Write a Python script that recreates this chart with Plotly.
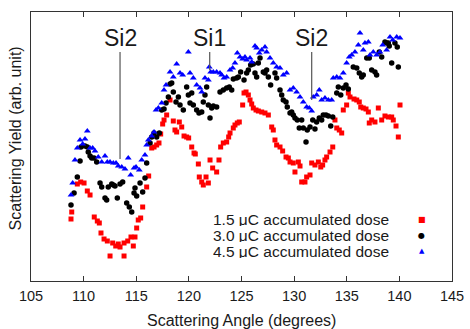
import plotly.graph_objects as go

# ---- data (scattering angle in degrees, scattering yield in arbitrary units) ----
dose_labels = ["1.5 μC accumulated dose", "3.0 μC accumulated dose", "4.5 μC accumulated dose"]

red_points = [(108.80,62),(108.87,69),(109.40,97),(109.72,99),(110.04,98),(110.35,90),(110.61,86),(111.01,64),(111.30,60),(111.49,58),(111.65,48),(111.94,42),(112.25,40),(112.51,25),(112.76,38),(113.05,35),(113.29,37),(113.46,34),(113.84,25),(113.84,38),(114.19,40),(114.50,44),(114.72,35),(114.88,44),(115.04,53),(115.19,61),(115.42,63),(115.61,74),(115.99,94),(116.18,105),(116.47,133),(116.69,134),(116.94,136),(117.16,138),(117.32,147),(117.51,157),(117.64,161),(117.89,166),(118.21,181),(118.52,160),(118.68,151),(118.84,149),(119.09,159),(119.32,154),(119.54,145),(119.79,144),(119.98,143),(120.27,134),(120.49,128),(120.61,127),(120.90,117),(120.99,104),(121.22,99),(121.37,96),(121.63,104),(121.85,98),(122.01,121),(122.26,113),(122.64,109),(122.86,121),(123.02,134),(123.27,138),(123.59,139),(123.78,144),(123.91,148),(124.22,153),(124.38,156),(124.60,158),(124.79,159),(125.11,176),(125.24,188),(125.43,189),(125.65,186),(125.81,181),(125.97,177),(126.12,173),(126.38,171),(126.60,170),(126.92,169),(127.23,168),(127.55,166),(127.87,154),(128.02,151),(128.18,141),(128.34,136),(128.66,134),(128.91,130),(129.23,124),(129.45,123),(129.61,119),(129.92,118),(130.08,109),(130.40,119),(130.56,115),(130.72,99),(131.03,99),(131.19,104),(131.51,106),(131.67,118),(131.98,116),(132.30,119),(132.53,114),(132.71,116),(132.93,121),(133.09,124),(133.41,129),(133.67,134),(133.88,161),(134.05,153),(134.29,151),(134.52,148),(134.67,171),(134.99,176),(135.15,188),(135.31,184),(135.69,182),(135.95,181),(136.19,179),(136.33,174),(136.57,173),(136.83,172),(137.05,169),(137.14,158),(137.37,161),(137.68,159),(138.00,173),(138.32,161),(138.63,165),(138.95,164),(139.27,164),(139.42,161),(139.68,155),(139.90,144),(140.06,176)]

black_points = [(108.80,76),(109.09,88),(109.40,104),(109.66,120),(109.75,134),(110.13,135),(110.35,134),(110.44,129),(110.61,125),(110.77,123),(110.99,123),(111.24,119),(111.56,98),(111.72,94),(112.03,83),(112.19,81),(112.34,94),(112.67,97),(112.82,96),(112.98,95),(113.20,83),(113.46,97),(113.71,99),(114.09,78),(114.34,74),(114.57,69),(114.79,88),(114.88,93),(115.04,85),(115.36,98),(115.61,89),(115.83,103),(115.99,118),(116.31,138),(116.47,144),(116.69,148),(116.94,144),(117.19,148),(117.42,171),(117.64,172),(117.83,178),(118.05,184),(118.21,197),(118.37,198),(118.52,189),(118.78,179),(119.00,184),(119.16,176),(119.47,171),(119.79,194),(119.95,186),(120.11,178),(120.27,188),(120.42,176),(120.74,171),(120.96,168),(121.22,169),(121.37,179),(121.53,186),(121.69,194),(121.85,176),(122.01,163),(122.17,173),(122.32,175),(122.64,174),(122.96,189),(123.27,191),(123.59,193),(123.84,194),(124.07,191),(124.22,202),(124.54,203),(124.70,204),(124.92,209),(125.24,201),(125.49,208),(125.65,211),(125.87,216),(126.12,217),(126.28,208),(126.44,204),(126.60,218),(126.76,223),(127.07,209),(127.23,208),(127.39,211),(127.55,204),(127.77,196),(128.18,208),(128.34,203),(128.66,191),(128.82,186),(128.97,181),(129.23,179),(129.35,174),(129.61,168),(129.77,169),(129.92,166),(130.08,163),(130.30,161),(130.49,153),(130.72,161),(130.87,153),(131.13,139),(131.25,151),(131.51,154),(131.77,161),(131.98,152),(132.14,159),(132.39,163),(132.62,161),(132.77,166),(133.03,166),(133.25,165),(133.48,155),(133.67,164),(134.05,188),(134.20,194),(134.43,186),(134.67,193),(134.93,196),(135.15,192),(135.62,214),(135.95,213),(136.19,208),(136.42,204),(136.57,206),(136.90,223),(137.14,223),(137.37,211),(137.68,209),(137.84,206),(138.09,229),(138.32,224),(138.63,239),(138.79,238),(138.95,238),(139.04,235),(139.27,218),(139.58,238),(139.80,234),(139.90,214)]

blue_points = [(108.80,86),(108.96,98),(109.18,121),(109.40,133),(109.66,141),(109.91,137),(110.13,142),(110.35,150),(110.61,133),(110.86,133),(111.08,130),(111.39,124),(111.72,119),(112.03,125),(112.25,119),(112.51,119),(112.82,118),(113.08,118),(113.29,115),(113.62,114),(113.93,112),(114.24,123),(114.47,106),(114.79,113),(114.98,114),(115.29,111),(115.52,121),(115.83,126),(115.99,136),(116.15,141),(116.47,145),(116.69,149),(116.88,171),(117.10,173),(117.42,178),(117.64,191),(117.83,196),(118.21,209),(118.52,204),(118.84,217),(119.16,208),(119.41,206),(119.95,229),(120.11,208),(120.42,203),(120.74,196),(121.06,193),(121.22,189),(121.53,203),(121.85,201),(121.94,214),(122.07,209),(122.32,209),(122.64,209),(122.96,208),(123.12,206),(123.34,203),(123.59,204),(123.91,211),(124.16,213),(124.38,218),(124.60,228),(124.86,224),(125.11,222),(125.33,224),(125.49,221),(125.81,223),(125.97,219),(126.28,235),(126.44,233),(126.69,228),(126.92,231),(127.23,234),(127.39,229),(127.71,223),(128.02,218),(128.34,214),(128.66,213),(128.97,206),(129.29,208),(129.61,191),(129.92,193),(130.24,189),(130.56,184),(130.87,179),(131.19,174),(131.44,173),(131.67,170),(131.82,184),(132.14,186),(132.39,191),(132.62,181),(132.93,183),(133.25,181),(133.57,181),(133.72,203),(134.05,204),(134.36,203),(134.67,208),(134.99,218),(135.24,224),(135.47,226),(135.78,229),(136.10,236),(136.26,248),(136.57,231),(136.73,238),(137.05,239),(137.21,226),(137.52,229),(137.84,226),(138.16,229),(138.41,236),(138.79,231),(139.11,244),(139.37,241),(139.75,244),(140.06,243)]

# peak labels
peak_labels = ["Si2", "Si1", "Si2"]
peak_angles = [113.46, 121.98, 131.67]
peak_line_bottom = [122, 211, 181]

x_ticks = [105, 110, 115, 120, 125, 130, 135, 140, 145]

FONT = "Liberation Sans, Arial, Helvetica, sans-serif"
TXT = "#1a1a1a"

fig = go.Figure()
series = [
    (red_points, "#ff0000", "square", 5),
    (black_points, "#000000", "circle", 5.5),
    (blue_points, "#0000ff", "triangle-up", 6),
]
for (pts, col, sym, sz), name in zip(series, dose_labels):
    fig.add_trace(go.Scatter(
        x=[p[0] for p in pts], y=[p[1] for p in pts], mode="markers", name=name,
        marker=dict(color=col, symbol=sym, size=sz, line=dict(width=0)),
        showlegend=False, hoverinfo="skip"))

# peak marker lines and labels
for lab, ang, yb in zip(peak_labels, peak_angles, peak_line_bottom):
    fig.add_shape(type="line", x0=ang, x1=ang, y0=yb, y1=229, xref="x", yref="y",
                  line=dict(color="#555555", width=1.2))
    fig.add_annotation(x=ang, y=243, xref="x", yref="y", text=lab, showarrow=False,
                       font=dict(family=FONT, size=23, color=TXT), yanchor="middle")

# legend built from text (text right aligned, symbol to the right)
leg_y = [0.229, 0.171, 0.113]
leg_sym = ["■", "●", "▲"]
leg_col = ["#ff0000", "#000000", "#0000ff"]
leg_sz = [8, 8, 7]
for name, yy, s, c, sz in zip(dose_labels, leg_y, leg_sym, leg_col, leg_sz):
    fig.add_annotation(x=0.853, y=yy, xref="paper", yref="paper", text=name, showarrow=False,
                       xanchor="right", yanchor="middle", height=14, borderpad=0,
                       font=dict(family=FONT, size=15.5, color=TXT))
    fig.add_annotation(x=0.928, y=yy, xref="paper", yref="paper", text=s, showarrow=False,
                       xanchor="center", yanchor="middle", font=dict(family="DejaVu Sans", size=sz, color=c))

# axis titles as annotations (precise placement)
fig.add_annotation(x=-0.038, y=0.53, xref="paper", yref="paper", text="Scattering Yield (arb. unit)",
                   textangle=-90, showarrow=False, xanchor="center", yanchor="middle",
                   font=dict(family=FONT, size=16, color=TXT))
fig.add_annotation(x=0.5, y=-0.145, xref="paper", yref="paper", text="Scattering Angle (degrees)",
                   showarrow=False, xanchor="center", yanchor="middle",
                   font=dict(family=FONT, size=16, color=TXT))

fig.update_layout(
    template="none",
    width=470, height=329,
    margin=dict(l=31, r=18, t=12, b=48, autoexpand=False),
    paper_bgcolor="white", plot_bgcolor="white",
    font=dict(family=FONT, color=TXT),
    xaxis=dict(range=[105, 145], tickvals=x_ticks, ticks="inside", ticklen=5, tickwidth=1,
               tickcolor="#333333", showline=True, linecolor="#333333", linewidth=1, mirror="ticks",
               showgrid=False, zeroline=False, tickfont=dict(size=14.5, family=FONT, color=TXT),
               ticklabelstandoff=2, automargin=False),
    yaxis=dict(range=[0, 269], showticklabels=False, ticks="", showline=True, linecolor="#333333",
               linewidth=1, mirror=True, showgrid=False, zeroline=False, automargin=False),
)

# remove the default page margin so the figure sits at the window's top-left corner
fig.write_html("out.html", config={"displayModeBar": False},
               post_script="document.body.style.margin='0';document.body.style.overflow='hidden';")
